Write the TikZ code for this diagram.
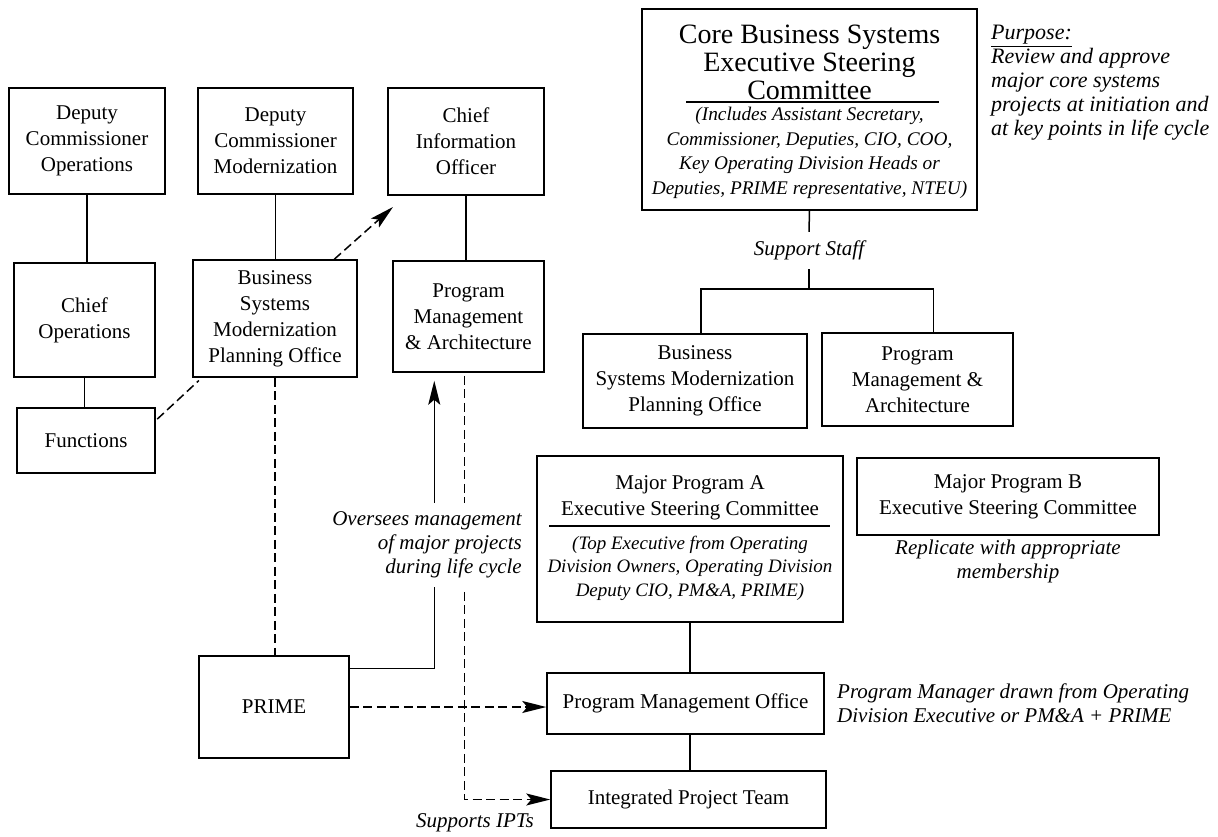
\documentclass[tikz,border=0pt]{standalone}
\usepackage{fontspec}
\setmainfont{Liberation Serif}
\usetikzlibrary{arrows.meta,calc}
\begin{document}
\begin{tikzpicture}[x=1pt,y=-1pt,
  box/.style={draw, line width=1.5pt, inner sep=0pt, align=center, font=\fontsize{21}{26}\selectfont},
  conn/.style={line width=1.5pt},
  dsh/.style={line width=1.5pt, dash pattern=on 9pt off 4.5pt},
  tip/.style={-{Stealth[length=24pt,width=12pt,inset=5pt]}},
  note/.style={font=\fontsize{21}{24}\selectfont\itshape, inner sep=0pt},
  plain/.style={inner sep=0pt, align=center},
]
\useasboundingbox (0,0) rectangle (1218,836);

% left column boxes
\node[box, minimum width=156pt, minimum height=106pt] (dco) at (87,141) {Deputy\\Commissioner\\Operations};
\node[box, minimum width=155pt, minimum height=106pt] (dcm) at (275.5,141) {Deputy\\Commissioner\\Modernization};
\node[box, minimum width=156pt, minimum height=107pt] (cio) at (466,141.5) {Chief\\Information\\Officer};
\node[box, minimum width=141pt, minimum height=114pt] (chiefops) at (84.5,320) {Chief\\Operations};
\node[box, minimum width=164pt, minimum height=117pt] (bsmpo1) at (275,318.5) {Business\\Systems\\Modernization\\Planning Office};
\node[box, minimum width=151pt, minimum height=111pt] (pma1) at (468.5,316.5) {Program\\Management\\\& Architecture};
\node[box, minimum width=138pt, minimum height=65pt] (functions) at (86,440.5) {Functions};
\node[box, minimum width=150pt, minimum height=102pt] (prime) at (274,707) {PRIME};

% core committee
\node[box, minimum width=335pt, minimum height=201pt] (core) at (809.5,109.5) {};
\node[plain, font=\fontsize{28}{28}\selectfont] (coretitle) at (809.5,62) {Core Business Systems\\Executive Steering\\Committee};
\draw[conn] (686,102) -- (939,102);
\node[plain, font=\fontsize{19.3}{24.5}\selectfont\itshape] (coremem) at (809.5,153) {(Includes Assistant Secretary,\\Commissioner, Deputies, CIO, COO,\\Key Operating Division Heads or\\Deputies, PRIME representative, NTEU)};

\node[note, align=left, anchor=west, font=\fontsize{22}{24}\selectfont\itshape] (purpose) at (991,83) {\underline{Purpose:}\\Review and approve\\major core systems\\projects at initiation and\\at key points in life cycle};

\node[note, minimum height=37pt] (ss) at (809,250.5) {Support Staff};
\coordinate (bus) at (809,289);

\node[box, minimum width=224pt, minimum height=94pt] (bsmpo2) at (695,381) {Business\\Systems Modernization\\Planning Office};
\node[box, minimum width=191pt, minimum height=93pt] (pma2) at (917.5,379.5) {Program\\Management \&\\Architecture};

% major programs
\node[box, minimum width=306pt, minimum height=166pt] (mpa) at (690,539) {};
\node[plain, font=\fontsize{21}{26}\selectfont] (mpatitle) at (690,498) {Major Program A\\Executive Steering Committee};
\draw[conn] (549,526) -- (830,526);
\node[plain, font=\fontsize{19}{23.5}\selectfont\itshape] (mpamem) at (690,568) {(Top Executive from Operating\\Division Owners, Operating Division\\Deputy CIO, PM\&A, PRIME)};

\node[box, minimum width=302pt, minimum height=77pt] (mpb) at (1008,496.5) {Major Program B\\Executive Steering Committee};
\node[note, align=center] (repl) at (1008,561) {Replicate with appropriate\\membership};

\node[box, minimum width=277pt, minimum height=61pt] (pmo) at (685.5,703.5) {Program Management Office};
\node[box, minimum width=275pt, minimum height=57pt] (ipt) at (688.5,799.5) {Integrated Project Team};

\node[note, align=left, anchor=west] (pmtxt) at (837,703) {Program Manager drawn from Operating\\Division Executive or PM\&A + PRIME};
\node[note] (sup) at (475,823) {Supports IPTs};

% solid connectors
\draw[conn] (dco.south) -- (dco.south |- chiefops.north);
\draw[conn] (chiefops.south) -- (chiefops.south |- functions.north);
\draw[conn] (dcm.south) -- (dcm.south |- bsmpo1.north);
\draw[conn] (cio.south) -- (cio.south |- pma1.north);
\draw[conn] (core.south) -- (ss.north);
\draw[conn] (ss.south) -- (bus);
\draw[conn] ($(bsmpo2.north)+(6,0)$) |- (bus) -| ($(pma2.north)+(16,0)$);
\draw[conn] (mpa.south) -- (mpa.south |- pmo.north);
\draw[conn] (mpa.south |- pmo.south) -- (mpa.south |- ipt.north);
\draw[conn, tip, shorten >=8pt] ($(prime.north east)+(0,13)$) -| ($(pma1.south west)+(42,0)$);

% dashed connectors
\coordinate (cioarr) at (393,207);
\draw[dsh, tip] (bsmpo1.45) -- (cioarr);
\draw[dsh, shorten <=2pt, shorten >=4pt] (functions.16) -- (bsmpo1.219);
\draw[dsh] (bsmpo1.south) -- (bsmpo1.south |- prime.north);
\draw[dsh, tip] (prime.east) -- (prime.east -| pmo.west);
\draw[dsh, tip, shorten <=3pt] ($(pma1.south west)+(72,0)$) |- (ipt.west);

% label over the vertical connectors
\node[note, align=right, anchor=east, fill=white, minimum height=84pt] (over) at (522,545) {Oversees management\\of major projects\\during life cycle};
\end{tikzpicture}
\end{document}
